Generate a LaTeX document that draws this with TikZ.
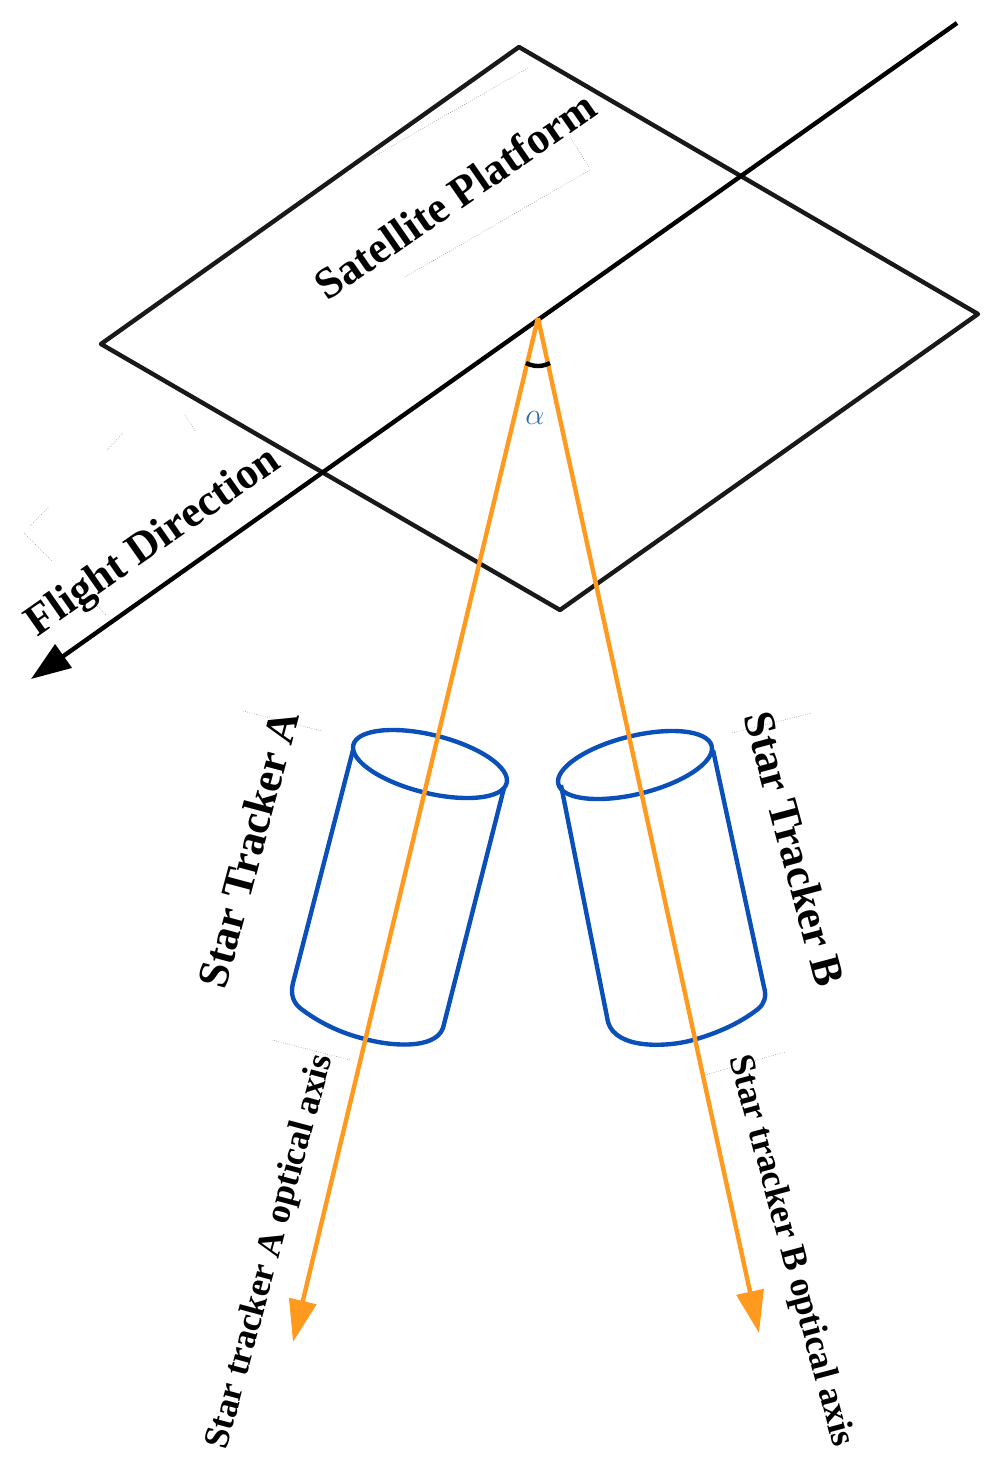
\documentclass[tikz,border=0pt]{standalone}
\usepackage{fontspec}
\setmainfont{Liberation Serif}
\usetikzlibrary{arrows.meta}
\definecolor{trackerblue}{HTML}{0B50B8}
\definecolor{axisorange}{HTML}{FF9A1E}
\definecolor{alphablue}{HTML}{2F6FA8}
\tikzset{
  x=0.02cm,y=-0.02cm,
  plat/.style={draw=black!90,line width=2.5pt,line join=round},
  flight/.style={draw=black,line width=2.5pt,-{Triangle[length=22.7pt,width=16pt]}},
  axis/.style={draw=axisorange,line width=2.5pt,-{Triangle[length=24pt,width=15.5pt]}},
  tracker/.style={draw=trackerblue,line width=2.5pt,line join=round},
  faint/.style={draw=black!55,line width=0.3pt,densely dotted},
  lab/.style={inner sep=0pt,text=black},
  labbig/.style={lab,font=\bfseries\fontsize{25}{27}\selectfont},
  labsmall/.style={lab,font=\bfseries\fontsize{20.5}{23}\selectfont},
}
\begin{document}
\begin{tikzpicture}
\useasboundingbox (0,0) rectangle (996,1472);
% platform
\coordinate (pa) at (519,47);
\coordinate (pb) at (978,314);
\coordinate (pc) at (560,610);
\coordinate (pd) at (101,344);
\draw[plat] (pa) -- (pb) -- (pc) -- (pd) -- cycle;
\coordinate (fs) at (957,23);
\coordinate (fe) at (31,679);
\draw[flight] (fs) -- (fe);
% faint artefacts
\coordinate (f1a) at (243,711); \coordinate (f1b) at (322,731);
\coordinate (f2a) at (272,1040); \coordinate (f2b) at (350,1060);
\coordinate (f3a) at (732,733); \coordinate (f3b) at (812,713);
\coordinate (f4a) at (705,1075); \coordinate (f4b) at (785,1052);
\coordinate (f5a) at (30,526); \coordinate (f5b) at (49,507);
\coordinate (f6a) at (24,533); \coordinate (f6b) at (52,561);
\coordinate (f7a) at (107,450); \coordinate (f7b) at (123,433);
\coordinate (f8a) at (72,580); \coordinate (f8b) at (106,615);
\coordinate (f9a) at (185,415); \coordinate (f9b) at (196,432);
\coordinate (f10a) at (528,68); \coordinate (f10b) at (373,157);
\coordinate (f11a) at (590,170); \coordinate (f11b) at (405,277);
\coordinate (f12a) at (570,137); \coordinate (f12b) at (589,167);
\foreach \p/\q in {f1a/f1b,f2a/f2b,f3a/f3b,f4a/f4b,f5a/f5b,f6a/f6b,f7a/f7b,f8a/f8b,f9a/f9b,f10a/f10b,f11a/f11b,f12a/f12b}
  \draw[faint] (\p) -- (\q);
% tracker A
\draw[tracker] (430,764) ellipse[x radius=79,y radius=29,rotate=-14];
\draw[tracker] (353,750) -- (293,983) .. controls (290,995) and (294,1003) .. (300,1008)
  .. controls (318,1022) and (340,1033) .. (365,1039)
  .. controls (390,1046) and (435,1050) .. (443,1028) -- (504,788);
% tracker B
\draw[tracker] (635,765) ellipse[x radius=79,y radius=29,rotate=14];
\draw[tracker] (713,750) -- (764,987) .. controls (767,997) and (764,1004) .. (758,1009)
  .. controls (740,1023) and (718,1033) .. (693,1040)
  .. controls (668,1047) and (616,1050) .. (608,1022) -- (561,785);
% optical axes
\coordinate (apex) at (538,318);
\coordinate (axa) at (293,1342);
\coordinate (axb) at (759,1333);
\draw[axis] (apex) -- (axa);
\draw[axis] (apex) -- (axb);
% angle
\coordinate (arca) at (526,363);
\coordinate (arcb) at (550,363);
\draw[black,line width=2.5pt] (arca) .. controls (534,367) and (542,367) .. (arcb);
\node[inner sep=0pt,text=alphablue,font=\fontsize{19}{21}\selectfont] (alpha) at (535,418) {$\alpha$};
% labels
\node[labbig,rotate=34.7] (sat) at (455,195) {Satellite Platform};
\node[labbig,rotate=35] (fl) at (154,543) {Flight Direction};
\node[labbig,rotate=75] (sa) at (248,849) {Star Tracker A};
\node[labbig,rotate=-75] (sb) at (795,849) {Star Tracker B};
\node[labsmall,rotate=75] (oa) at (271,1252) {Star tracker A optical axis};
\node[labsmall,rotate=-75] (ob) at (790,1251) {Star tracker B optical axis};
\end{tikzpicture}
\end{document}
